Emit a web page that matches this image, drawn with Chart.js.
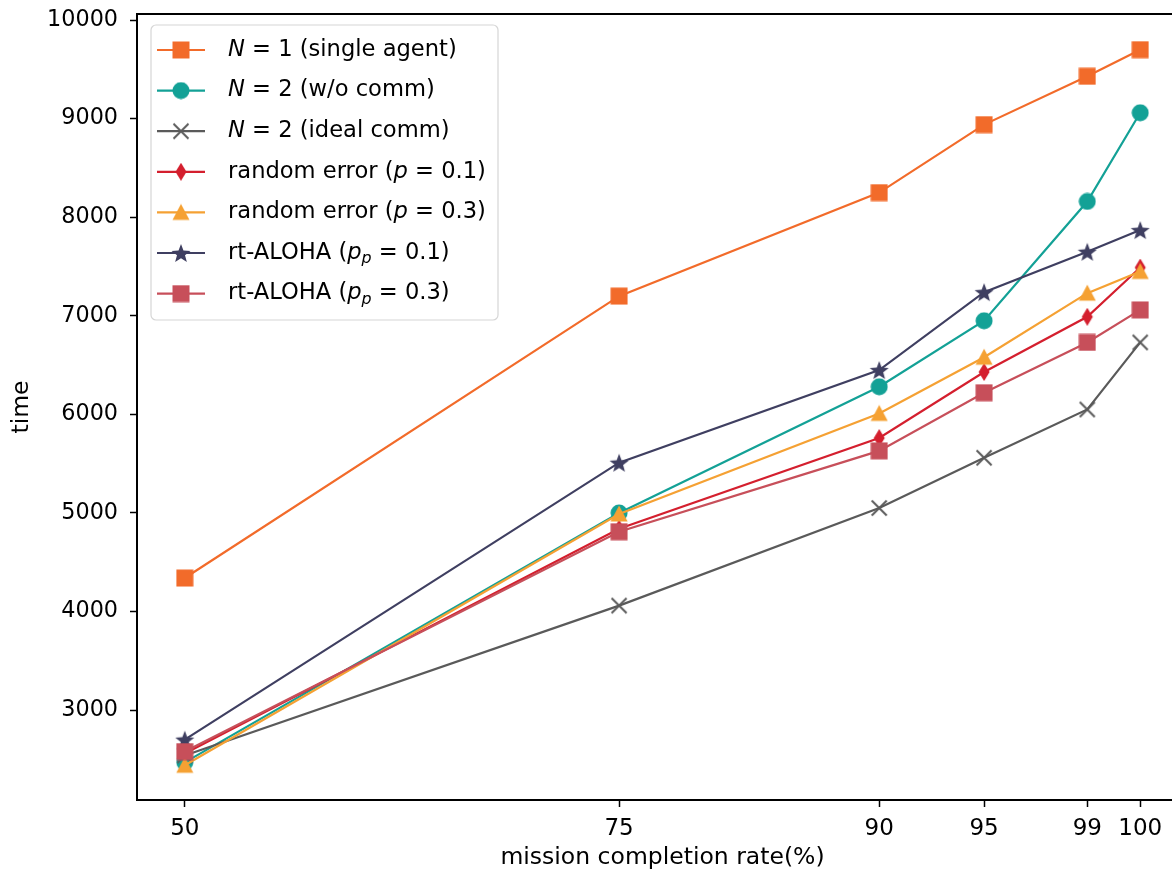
<!DOCTYPE html>
<html>
<head>
<meta charset="utf-8">
<script src="https://cdn.jsdelivr.net/npm/chart.js@4.4.0/dist/chart.umd.min.js"></script>
<style>
  html, body { margin: 0; padding: 0; background: #fff; overflow: hidden; }
  #wrap { width: 1200px; height: 872px; }
</style>
</head>
<body>
<div id="wrap"><canvas id="chart" width="1200" height="872"></canvas></div>
<script>
// mission completion rates and where each one sits along the x axis
const rateLabels = ['50', '75', '90', '95', '99', '100'];
const ratePos = [50, 72.73, 86.34, 91.83, 97.23, 100];
const yTicks = [3000, 4000, 5000, 6000, 7000, 8000, 9000, 10000];

// completion time per setup
const singleAgent = [4340, 7200, 8250, 8940, 9430, 9700];
const noComm      = [2470, 5000, 6280, 6950, 8160, 9060];
const idealComm   = [2540, 4060, 5050, 5560, 6050, 6730];
const randErr01   = [2560, 4840, 5760, 6430, 6990, 7490];
const randErr03   = [2440, 4990, 6010, 6580, 7230, 7450];
const aloha01     = [2700, 5510, 6450, 7240, 7650, 7870];
const aloha03     = [2580, 4810, 5630, 6220, 6730, 7060];

// {x} = italic, _{x} = italic subscript
const seriesNames = [
  '{N} = 1 (single agent)',
  '{N} = 2 (w/o comm)',
  '{N} = 2 (ideal comm)',
  'random error ({p} = 0.1)',
  'random error ({p} = 0.3)',
  'rt-ALOHA ({p}_{p} = 0.1)',
  'rt-ALOHA ({p}_{p} = 0.3)'
];
const seriesData = [singleAgent, noComm, idealComm, randErr01, randErr03, aloha01, aloha03];
const seriesColors = ['#f26b2a', '#13a196', '#5a5a5a', '#d41f2e', '#f5a133', '#3f3f61', '#c74f5a'];
const seriesMarkers = ['square', 'circle', 'x', 'diamond', 'triangle', 'star', 'square'];

const FONT = '"DejaVu Sans", "Liberation Sans", sans-serif';

function makeMarker(shape, color) {
  const size = shape === 'star' ? 20 : 18;
  const c = document.createElement('canvas');
  c.width = c.height = size;
  const g = c.getContext('2d');
  const m = size / 2;
  g.fillStyle = color;
  g.strokeStyle = color;
  g.lineWidth = 2;
  g.beginPath();
  if (shape === 'square') {
    g.rect(0.5, 0.5, size - 1, size - 1);
  } else if (shape === 'circle') {
    g.arc(m, m, m - 0.5, 0, Math.PI * 2);
  } else if (shape === 'triangle') {
    g.moveTo(m, 0.5); g.lineTo(size - 0.5, size - 1.5); g.lineTo(0.5, size - 1.5); g.closePath();
  } else if (shape === 'diamond') {
    g.moveTo(m, 0); g.lineTo(m + 5.5, m); g.lineTo(m, size); g.lineTo(m - 5.5, m); g.closePath();
  } else if (shape === 'star') {
    for (let i = 0; i < 10; i++) {
      const r = i % 2 ? m * 0.42 : m;
      const a = -Math.PI / 2 + i * Math.PI / 5;
      const px = m + r * Math.cos(a), py = m + 1 + r * Math.sin(a);
      i ? g.lineTo(px, py) : g.moveTo(px, py);
    }
    g.closePath();
  } else if (shape === 'x') {
    g.moveTo(1.5, 1.5); g.lineTo(size - 1.5, size - 1.5);
    g.moveTo(size - 1.5, 1.5); g.lineTo(1.5, size - 1.5);
  }
  if (shape === 'x') g.stroke(); else g.fill();
  return c;
}

const markerImgs = seriesMarkers.map((s, i) => makeMarker(s, seriesColors[i]));

const datasets = seriesData.map((vals, i) => ({
  label: seriesNames[i].replace(/[_{}]/g, ''),
  data: vals.map((v, j) => ({ x: ratePos[j], y: v })),
  borderColor: seriesColors[i],
  backgroundColor: seriesColors[i],
  borderWidth: 2.2,
  pointStyle: markerImgs[i],
  pointRadius: 8,
  tension: 0,
  order: seriesData.length - 1 - i
}));

function drawRich(ctx, markup, x, y, size) {
  const parts = markup.split(/(_?\{[^}]*\})/).filter(s => s);
  for (const p of parts) {
    let txt = p, italic = false, sub = false;
    if (p.startsWith('_{')) { txt = p.slice(2, -1); italic = true; sub = true; }
    else if (p.startsWith('{')) { txt = p.slice(1, -1); italic = true; }
    const fs = sub ? size * 0.7 : size;
    ctx.font = (italic ? 'oblique ' : '') + fs + 'px ' + FONT;
    ctx.fillText(txt, x, y + (sub ? size * 0.28 : 0));
    x += ctx.measureText(txt).width;
  }
}

// legend box in the upper left of the plot
const boxLegend = {
  id: 'boxLegend',
  afterDraw(chart) {
    const ctx = chart.ctx;
    const area = chart.chartArea;
    const bx = area.left + 14, by = area.top + 11, bw = 347, bh = 295;
    ctx.save();
    ctx.beginPath();
    ctx.roundRect(bx, by, bw, bh, 5);
    ctx.fillStyle = 'rgba(255,255,255,0.85)';
    ctx.fill();
    ctx.strokeStyle = '#d6d6d6';
    ctx.lineWidth = 1.2;
    ctx.stroke();
    seriesNames.forEach((name, i) => {
      const y = by + 25 + i * 40.6;
      ctx.strokeStyle = seriesColors[i];
      ctx.lineWidth = 2.2;
      ctx.beginPath();
      ctx.moveTo(bx + 6, y);
      ctx.lineTo(bx + 54, y);
      ctx.stroke();
      const img = markerImgs[i];
      ctx.drawImage(img, bx + 30 - img.width / 2, y - img.height / 2);
      ctx.fillStyle = '#000';
      ctx.textBaseline = 'middle';
      drawRich(ctx, name, bx + 77, y, 22.6);
    });
    ctx.restore();
  }
};

const axisLine = { color: '#000', width: 2 };

new Chart(document.getElementById('chart'), {
  type: 'line',
  data: { datasets },
  options: {
    responsive: false,
    animation: false,
    layout: { padding: { top: 14, right: 12, left: 0, bottom: 0 } },
    plugins: { legend: { display: false }, tooltip: { enabled: false } },
    scales: {
      x: {
        type: 'linear',
        min: 47.5,
        max: 102.5,
        afterBuildTicks: s => { s.ticks = ratePos.map(v => ({ value: v })); },
        afterFit: s => { s.height = 72; s.paddingLeft = 0; s.paddingRight = 0; },
        ticks: {
          autoSkip: false,
          maxRotation: 0,
          padding: 8,
          color: '#000',
          font: { family: FONT, size: 23 },
          callback: v => rateLabels[ratePos.indexOf(v)]
        },
        grid: { drawOnChartArea: false, tickLength: 7, color: '#000', tickWidth: 1.5 },
        border: axisLine,
        title: {
          display: true,
          text: 'mission completion rate(%)',
          color: '#000',
          font: { family: FONT, size: 23.5, lineHeight: 1.2 },
          padding: { top: 0, bottom: 0 }
        }
      },
      xTop: {
        type: 'linear',
        position: 'top',
        min: 47.5,
        max: 102.5,
        ticks: { display: false },
        grid: { drawOnChartArea: false, drawTicks: false },
        border: axisLine,
        afterFit: s => { s.height = 0; }
      },
      y: {
        min: 2088,
        max: 10062,
        afterBuildTicks: s => { s.ticks = yTicks.map(v => ({ value: v })); },
        afterFit: s => { s.width = 137; s.paddingTop = 0; s.paddingBottom = 0; },
        ticks: {
          padding: 12,
          color: '#000',
          font: { family: FONT, size: 22.3 },
          callback: v => String(v)
        },
        grid: { drawOnChartArea: false, tickLength: 7, color: '#000', tickWidth: 1.5 },
        border: axisLine,
        title: {
          display: true,
          text: 'time',
          color: '#000',
          font: { family: FONT, size: 23.5, lineHeight: 1.2 },
          padding: { top: 8, bottom: 0 }
        }
      }
    }
  },
  plugins: [boxLegend]
});
</script>
</body>
</html>
